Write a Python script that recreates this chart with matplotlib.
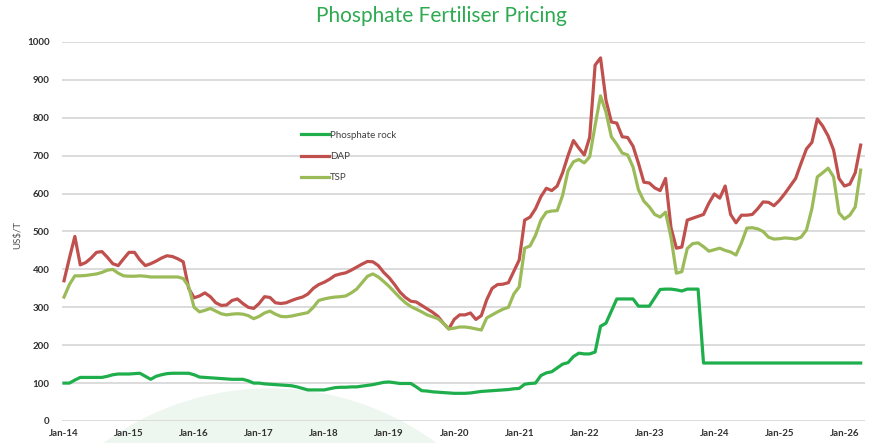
import matplotlib.pyplot as plt
import matplotlib.patches as mpatches
import numpy as np

# Monthly prices (US$/t) from Jan-14 to Apr-26
rock = [100, 100, 108, 115, 115, 115, 115, 115, 118, 122,
        124, 124, 124, 125, 126, 118, 110, 118, 122, 125,
        126, 126, 126, 126, 122, 116, 115, 114, 113, 112,
        111, 110, 110, 110, 106, 100, 100, 98, 97, 96,
        95, 94, 93, 90, 86, 82, 82, 82, 82, 85,
        88, 89, 89, 90, 90, 92, 94, 96, 99, 102,
        103, 101, 99, 99, 99, 90, 80, 79, 77, 76,
        75, 74, 73, 73, 73, 74, 76, 78, 79, 80,
        81, 82, 83, 85, 86, 97, 99, 100, 120, 127,
        130, 140, 150, 154, 170, 179, 177, 177, 182, 250,
        258, 290, 322, 322, 322, 322, 303, 303, 303, 325,
        347, 348, 348, 346, 343, 348, 348, 348, 153, 153,
        153, 153, 153, 153, 153, 153, 153, 153, 153, 153,
        153, 153, 153, 153, 153, 153, 153, 153, 153, 153,
        153, 153, 153, 153, 153, 153, 153, 153]
dap = [370, 430, 487, 412, 418, 430, 445, 447, 432, 415,
       410, 428, 445, 445, 425, 410, 415, 422, 430, 436,
       434, 428, 420, 350, 325, 330, 338, 328, 312, 305,
       306, 318, 322, 310, 300, 297, 310, 328, 326, 312,
       310, 312, 318, 323, 327, 335, 350, 360, 366, 374,
       384, 388, 391, 398, 406, 414, 421, 420, 410, 392,
       378, 360, 340, 326, 316, 314, 305, 296, 287, 276,
       258, 243, 268, 280, 280, 285, 268, 278, 320, 350,
       360, 361, 365, 395, 425, 530, 538, 560, 592, 614,
       608, 620, 655, 700, 740, 720, 702, 749, 939, 958,
       847, 789, 786, 750, 748, 725, 680, 630, 628, 615,
       608, 640, 510, 456, 459, 530, 535, 540, 545, 575,
       599, 588, 620, 545, 523, 543, 543, 545, 560, 578,
       577, 568, 582, 600, 620, 640, 680, 718, 735, 797,
       778, 752, 715, 640, 620, 625, 655, 728]
tsp = [327, 360, 383, 383, 384, 386, 388, 392, 398, 400,
       390, 383, 382, 382, 383, 382, 380, 380, 380, 380,
       380, 380, 376, 355, 300, 288, 292, 297, 290, 283,
       280, 282, 283, 282, 278, 270, 276, 285, 290, 282,
       276, 275, 277, 280, 283, 286, 300, 318, 322, 325,
       327, 328, 330, 338, 348, 365, 382, 388, 380, 368,
       355, 340, 325, 312, 302, 295, 288, 280, 275, 270,
       258, 243, 245, 248, 248, 246, 243, 240, 272, 280,
       288, 295, 300, 335, 354, 456, 462, 490, 530, 551,
       554, 555, 595, 660, 684, 690, 681, 697, 780, 858,
       815, 750, 730, 707, 702, 670, 610, 580, 565, 545,
       538, 551, 485, 390, 394, 455, 468, 470, 460, 448,
       452, 456, 450, 446, 438, 470, 509, 510, 507, 500,
       485, 480, 481, 483, 482, 480, 485, 504, 560, 644,
       655, 667, 644, 549, 533, 543, 565, 662]
year_labels = ["Jan-14", "Jan-15", "Jan-16", "Jan-17", "Jan-18", "Jan-19", "Jan-20",
               "Jan-21", "Jan-22", "Jan-23", "Jan-24", "Jan-25", "Jan-26"]

months = np.arange(len(dap))

plt.rcParams['font.family'] = ['Lato', 'DejaVu Sans']

fig = plt.figure(figsize=(8.69, 4.43), dpi=100)

# pale green watermark circle at the bottom, behind everything
fig.patches.append(mpatches.Ellipse((270 / 869, -226 / 443), 560 / 869, 560 / 443,
                                    transform=fig.transFigure, color='#eef7ef', zorder=-5))

ax = fig.add_axes([62 / 869, 22 / 443, 803 / 869, 379 / 443])
ax.patch.set_alpha(0)

ax.plot(months, rock, color='#1fae4c', lw=2.3, label='Phosphate rock', zorder=3)
ax.plot(months, dap, color='#c0504d', lw=2.3, label='DAP', zorder=3)
ax.plot(months, tsp, color='#9bbb59', lw=2.3, label='TSP', zorder=3)

ax.set_ylim(0, 1000)
ax.set_xlim(-0.37, 147.8)
ax.set_yticks(range(0, 1001, 100))
ax.set_xticks(range(0, 12 * len(year_labels), 12))
ax.set_xticklabels(year_labels)
ax.grid(axis='y', color='#dcdcdc', lw=1.4)
ax.set_axisbelow(True)
for s in ax.spines.values():
    s.set_visible(False)
ax.tick_params(length=0, labelsize=7, colors='#303030', pad=6)
for lab in ax.get_xticklabels() + ax.get_yticklabels():
    lab.set_fontweight('bold')
ax.tick_params(axis='y', pad=9)

fig.text(18 / 869, 1 - 235 / 443, 'US$/T', rotation=90, ha='center', va='center',
         fontsize=7, color='#505050')
fig.text(441 / 869, 1 - 16 / 443, 'Phosphate Fertiliser Pricing', ha='center', va='center',
         fontsize=15, color='#2eaa52')

ax.legend(loc='upper left', bbox_to_anchor=(296 / 869, 1 - 126 / 443),
          bbox_transform=fig.transFigure, frameon=False, fontsize=7,
          handlelength=2.9, handletextpad=0.1, labelspacing=1.25, borderpad=0,
          labelcolor='#404040')

fig.savefig('out.png', dpi=100)
